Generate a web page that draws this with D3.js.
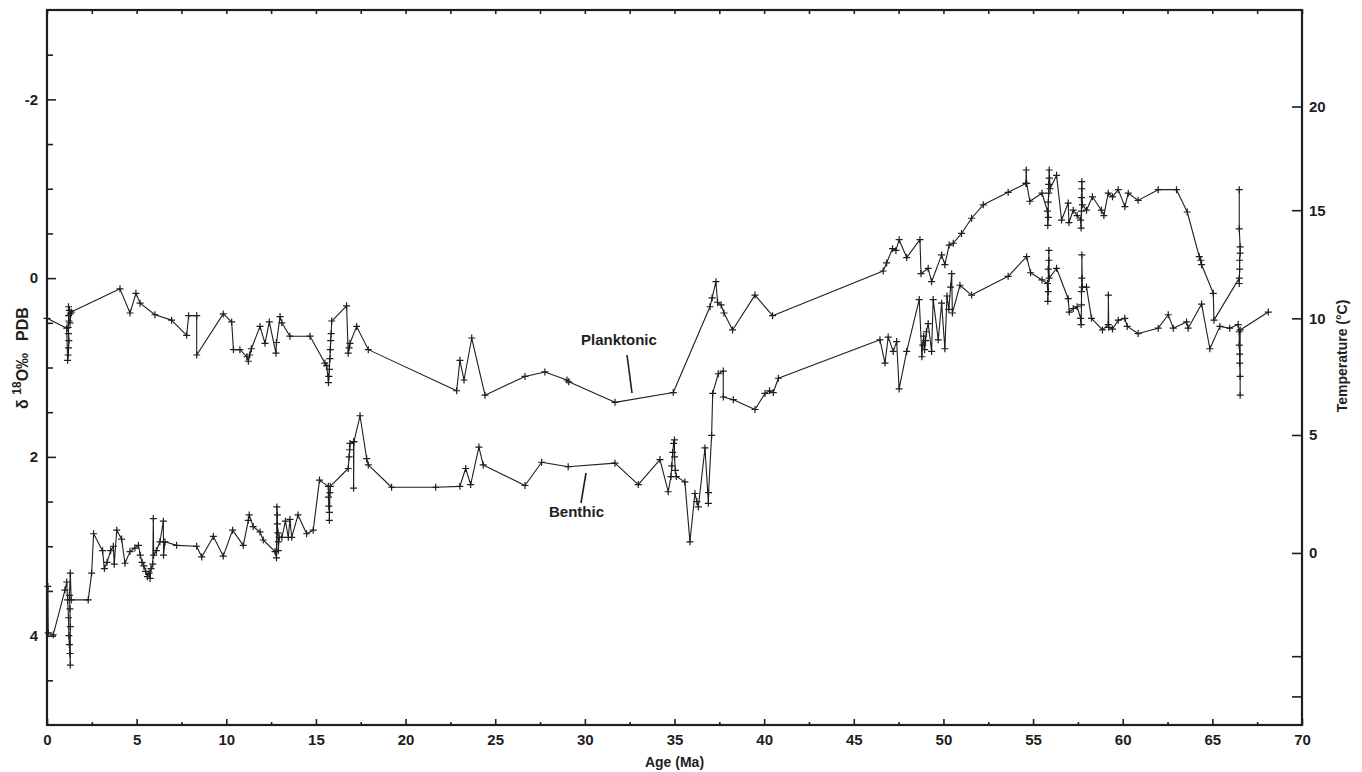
<!DOCTYPE html>
<html>
<head>
<meta charset="utf-8">
<script src="https://cdn.jsdelivr.net/npm/d3@7"></script>
<style>
    body { margin: 0; background: #fff; }
</style>
</head>
<body>
<div id="canvas"></div>
<script>
"use strict"

/* Planktonic series: age (Ma) and delta 18O (per mil PDB) */
let planktonicAge = [0, 1.1, 1.15, 1.18, 1.2, 1.22, 1.2, 1.18, 1.22, 1.2, 1.25, 1.2, 1.3, 1.28, 1.35,
    4.07, 4.63, 4.96, 5.19, 6.02, 6.95, 7.79, 7.9, 8.35, 8.35, 9.83, 10.3, 10.4, 10.76, 11.15, 11.23, 11.3, 11.4,
    11.88, 12.16, 12.4, 12.77, 12.8, 13.0, 13.1, 13.55, 14.67, 15.5,
    15.6, 15.7, 15.72, 15.75, 15.78, 15.8, 15.82, 15.85, 15.88,
    16.71, 16.8, 16.85, 16.9, 17.27, 17.92, 22.85, 23.03, 23.26, 23.69, 24.43, 26.66, 27.77, 29.0, 29.1,
    31.68, 34.93, 36.98, 37.1, 37.31, 37.4, 37.6, 37.76, 38.24, 39.49, 40.47,
    46.64, 46.83, 47.16, 47.35, 47.53, 47.95, 48.69, 48.75, 49.15, 49.34, 49.9, 50.08, 50.32, 50.55,
    51.01, 51.57, 52.22, 53.61, 54.6, 54.62, 54.64, 54.82, 55.5,
    55.8, 55.82, 55.85, 55.85, 55.87, 55.87, 55.9, 55.9, 55.95,
    56.31, 56.59, 56.96, 57.0, 57.24, 57.46,
    57.65, 57.68, 57.7, 57.7, 57.72, 57.72, 57.75,
    57.98, 58.31, 58.81, 58.95, 59.19, 59.43, 59.75, 60.12, 60.31, 60.86, 61.98, 63.0, 63.6,
    64.27, 64.35, 64.4, 65.05, 65.09, 66.5,
    66.5, 66.52, 66.52, 66.55, 66.55, 66.5, 66.5]
let planktonicD18O = [0.45, 0.56, 0.92, 0.86, 0.78, 0.70, 0.62, 0.55, 0.48, 0.42, 0.36, 0.32, 0.40, 0.50, 0.38,
    0.12, 0.39, 0.17, 0.28, 0.41, 0.47, 0.64, 0.42, 0.42, 0.86, 0.40, 0.49, 0.80, 0.80, 0.88, 0.93, 0.86, 0.79,
    0.54, 0.73, 0.49, 0.84, 0.72, 0.43, 0.50, 0.65, 0.65, 0.95,
    0.98, 1.17, 1.10, 1.02, 0.90, 0.80, 0.70, 0.62, 0.48,
    0.31, 0.84, 0.78, 0.73, 0.54, 0.80, 1.26, 0.92, 1.14, 0.67, 1.31, 1.10, 1.05, 1.14, 1.16,
    1.39, 1.28, 0.32, 0.22, 0.04, 0.27, 0.30, 0.39, 0.58, 0.19, 0.42,
    -0.08, -0.17, -0.33, -0.31, -0.43, -0.23, -0.43, -0.05, -0.11, 0.04, -0.26, -0.15, -0.37, -0.39,
    -0.50, -0.67, -0.82, -0.96, -1.06, -1.21, -1.06, -0.86, -0.95,
    -0.75, -0.59, -0.68, -0.85, -0.95, -1.05, -1.12, -1.21, -1.00,
    -1.15, -0.65, -0.84, -0.62, -0.76, -0.70,
    -0.65, -0.56, -0.75, -0.90, -1.00, -1.08, -0.82,
    -0.76, -0.91, -0.76, -0.70, -0.95, -0.91, -0.99, -0.80, -0.95, -0.87, -0.99, -0.99, -0.74,
    -0.24, -0.20, -0.15, 0.17, 0.47, 0.00,
    0.06, -0.10, -0.20, -0.28, -0.35, -0.55, -0.99]

/* Benthic series */
let benthicAge = [0.05, 0.07, 0.35, 1.0,
    1.1, 1.15, 1.2, 1.22, 1.25, 1.28, 1.3, 1.3, 1.28, 1.25, 1.3, 1.35,
    2.3, 2.49, 2.6, 3.1, 3.2, 3.35, 3.55, 3.7, 3.75, 3.89, 4.16, 4.35, 4.63, 4.9, 5.1,
    5.2, 5.3, 5.4, 5.5, 5.6, 5.7, 5.75, 5.8, 5.9, 5.93, 5.95, 6.1, 6.3, 6.49, 6.5, 6.58,
    7.23, 8.35, 8.63, 9.28, 9.83, 10.35, 10.95, 11.23, 11.28, 11.5, 11.88, 12.06, 12.72,
    12.8, 12.82, 12.85, 12.85, 12.88, 12.9, 12.9, 12.95, 13.1, 13.3, 13.46, 13.55, 13.65,
    14.0, 14.48, 14.85, 15.2, 15.69, 15.7, 15.72, 15.75, 15.75, 15.78, 15.8,
    16.8, 16.85, 16.88, 16.9, 17.1, 17.1, 17.12, 17.46, 17.83, 17.92, 19.22, 21.68,
    23.03, 23.35, 23.63, 24.09, 24.33, 26.66, 27.59, 29.07, 31.68, 32.98, 34.19, 34.65,
    34.8, 34.85, 34.9, 34.95, 35.0, 35.0, 35.05, 35.1,
    35.58, 35.86, 36.14, 36.25, 36.33, 36.7, 36.89, 36.9, 37.07, 37.13, 37.44, 37.72, 37.72,
    38.28, 39.49, 40.05, 40.3, 40.51, 40.79,
    46.46, 46.74, 46.92, 47.2, 47.39, 47.53, 47.95, 48.65,
    48.8, 48.85, 48.9, 48.95, 49.0, 49.05, 49.15, 49.34, 49.43, 49.71, 49.9, 50.08,
    50.2, 50.3, 50.4, 50.46, 50.5, 50.92, 51.57, 53.61, 54.64, 54.86, 55.5,
    55.8, 55.82, 55.85, 55.85, 55.88, 55.88, 55.9,
    56.31, 56.96, 57.02, 57.24, 57.46,
    57.65, 57.68, 57.7, 57.7, 57.72, 57.72, 57.75,
    57.98, 58.26, 58.87, 59.19, 59.2, 59.22, 59.43, 59.75, 60.12, 60.25, 60.86, 61.98,
    62.54, 62.82, 63.56, 63.65, 64.4, 64.86, 65.42, 65.97, 66.44,
    66.5, 66.5, 66.52, 66.52, 66.55, 66.55, 66.55, 68.12]
let benthicD18O = [3.45, 3.97, 3.99, 3.49,
    3.40, 3.60, 3.80, 4.00, 4.10, 4.20, 4.33, 3.90, 3.70, 3.55, 3.30, 3.60,
    3.60, 3.30, 2.86, 3.05, 3.25, 3.18, 3.05, 3.00, 3.20, 2.82, 2.92, 3.19, 3.06, 3.02, 2.99,
    3.10, 3.18, 3.22, 3.28, 3.34, 3.30, 3.36, 3.25, 3.20, 2.69, 3.10, 3.05, 2.95, 2.72, 3.10, 2.95,
    2.99, 3.00, 3.12, 2.89, 3.11, 2.82, 2.99, 2.71, 2.65, 2.78, 2.84, 2.93, 3.06,
    3.13, 2.56, 2.65, 2.75, 2.85, 2.95, 3.05, 2.90, 2.90, 2.72, 2.90, 2.70, 2.90,
    2.65, 2.86, 2.82, 2.26, 2.33, 2.45, 2.55, 2.62, 2.71, 2.40, 2.33,
    2.13, 2.00, 1.92, 1.85, 1.83, 2.35, 1.83, 1.54, 2.02, 2.09, 2.34, 2.34,
    2.33, 2.13, 2.31, 1.89, 2.09, 2.32, 2.06, 2.11, 2.07, 2.31, 2.03, 2.39,
    2.22, 2.10, 1.95, 1.85, 1.81, 2.00, 2.15, 2.22,
    2.28, 2.95, 2.41, 2.50, 2.56, 1.90, 2.52, 2.40, 1.76, 1.29, 1.07, 1.04, 1.33,
    1.36, 1.47, 1.29, 1.26, 1.28, 1.12,
    0.69, 0.95, 0.66, 0.82, 0.71, 1.24, 0.82, 0.24,
    0.88, 0.75, 0.65, 0.80, 0.70, 0.60, 0.51, 0.82, 0.24, 0.69, 0.28, 0.79,
    0.20, 0.35, 0.10, -0.05, 0.39, 0.08, 0.19, -0.02, -0.24, -0.06, 0.02,
    0.06, 0.26, 0.15, -0.10, -0.20, -0.31, 0.00,
    -0.11, 0.23, 0.38, 0.34, 0.32,
    0.45, 0.52, 0.30, 0.15, 0.00, -0.26, 0.10,
    0.10, 0.45, 0.58, 0.52, 0.19, 0.55, 0.57, 0.47, 0.45, 0.54, 0.62, 0.56,
    0.41, 0.56, 0.49, 0.56, 0.29, 0.79, 0.54, 0.56, 0.52,
    0.60, 0.75, 0.85, 0.95, 1.10, 1.31, 0.58, 0.38]

/* Axis ticks */
let ageMajorTicks = [0, 5, 10, 15, 20, 25, 30, 35, 40, 45, 50, 55, 60, 65, 70]
let ageMinorTicks = [2.5, 7.5, 12.5, 17.5, 22.5, 27.5, 32.5, 37.5, 42.5, 47.5, 52.5, 57.5, 62.5, 67.5]
let d18OMajorTicks = [-2, 0, 2, 4]
let d18OMinorTicks = [-2.5, -1.5, -1, -0.5, 0.5, 1, 1.5, 2.5, 3, 3.5, 4.5]
/* temperature scale: label and the delta 18O value it sits on */
let tempTickLabels = ["20", "15", "10", "5", "0", "", ""]
let tempTickD18O = [-1.92, -0.76, 0.45, 1.755, 3.075, 4.23, 4.68]

let svgWidth = 1362
let svgHeight = 772
let margin = {
    top: 10,
    right: 60,
    bottom: 47,
    left: 47
}
let plotWidth = svgWidth - margin.left - margin.right
let plotHeight = svgHeight - margin.top - margin.bottom
let ink = "#1e1e1e"
let font = "Arial, 'Liberation Sans', Helvetica, sans-serif"

let svg = d3.select("#canvas")
    .append("svg")
    .attr("width", svgWidth)
    .attr("height", svgHeight)
    .style("background", "#fff")

let viz = svg.append("g")
    .attr("transform", `translate(${margin.left},${margin.top})`)

/* scales */
let xScale = d3.scaleLinear()
    .domain([0, 70])
    .range([0, plotWidth])
let yScale = d3.scaleLinear()
    .domain([-3, 5]) /* inverted: lighter values on top */
    .range([0, plotHeight])

function styleAxis(g) {
    g.select(".domain").remove()
    g.selectAll("line").attr("stroke", ink).attr("stroke-width", 1.6)
    g.selectAll("text")
        .style("font-family", font)
        .style("font-size", "15px")
        .style("font-weight", "bold")
        .attr("fill", ink)
}

/* bottom axis */
viz.append("g")
    .attr("transform", `translate(0,${plotHeight})`)
    .call(d3.axisBottom(xScale).tickValues(ageMinorTicks).tickSize(-3).tickFormat(""))
    .call(styleAxis)
viz.append("g")
    .attr("transform", `translate(0,${plotHeight})`)
    .call(d3.axisBottom(xScale).tickValues(ageMajorTicks).tickSize(-6).tickPadding(9).tickFormat(d => d))
    .call(styleAxis)

/* top axis, ticks only */
viz.append("g")
    .call(d3.axisTop(xScale).tickValues(ageMajorTicks.concat(ageMinorTicks)).tickSize(-4).tickFormat(""))
    .call(styleAxis)

/* left axis */
viz.append("g")
    .call(d3.axisLeft(yScale).tickValues(d18OMinorTicks).tickSize(-6).tickFormat(""))
    .call(styleAxis)
viz.append("g")
    .call(d3.axisLeft(yScale).tickValues(d18OMajorTicks).tickSize(-9).tickPadding(9).tickFormat(d => String(d)))
    .call(styleAxis)

/* right axis: temperature */
viz.append("g")
    .attr("transform", `translate(${plotWidth},0)`)
    .call(d3.axisRight(yScale).tickValues(tempTickD18O).tickSize(-10).tickPadding(7)
        .tickFormat((d, i) => tempTickLabels[i]))
    .call(styleAxis)

/* frame */
viz.append("rect")
    .attr("width", plotWidth)
    .attr("height", plotHeight)
    .attr("fill", "none")
    .attr("stroke", ink)
    .attr("stroke-width", 2.2)

/* series */
let line = d3.line()
    .x(d => xScale(d[0]))
    .y(d => yScale(d[1]))
let cross = "M-3.5,0H3.5M0,-3.5V3.5"

function drawSeries(ages, values, name) {
    let pts = ages.map((a, i) => [a, values[i]])
    viz.append("path")
        .datum(pts)
        .attr("d", line)
        .attr("fill", "none")
        .attr("stroke", ink)
        .attr("stroke-width", 1.1)
        .attr("stroke-linejoin", "round")
    viz.selectAll("path.mark-" + name)
        .data(pts)
        .join("path")
        .attr("class", "mark-" + name)
        .attr("transform", d => `translate(${xScale(d[0])},${yScale(d[1])})`)
        .attr("d", cross)
        .attr("stroke", ink)
        .attr("stroke-width", 1.2)
}
drawSeries(planktonicAge, planktonicD18O, "planktonic")
drawSeries(benthicAge, benthicD18O, "benthic")

/* series labels with leader lines (page coordinates) */
svg.append("text")
    .attr("x", 581)
    .attr("y", 345)
    .style("font-family", font)
    .style("font-size", "15px")
    .style("font-weight", "bold")
    .attr("fill", ink)
    .text("Planktonic")
svg.append("line")
    .attr("x1", 627).attr("y1", 355)
    .attr("x2", 632).attr("y2", 393)
    .attr("stroke", ink)
    .attr("stroke-width", 1.6)

svg.append("text")
    .attr("x", 549)
    .attr("y", 517)
    .style("font-family", font)
    .style("font-size", "15px")
    .style("font-weight", "bold")
    .attr("fill", ink)
    .text("Benthic")
svg.append("line")
    .attr("x1", 586).attr("y1", 473)
    .attr("x2", 581).attr("y2", 503)
    .attr("stroke", ink)
    .attr("stroke-width", 1.6)

/* axis titles */
svg.append("text")
    .attr("x", margin.left + xScale(35))
    .attr("y", 767)
    .attr("text-anchor", "middle")
    .style("font-family", font)
    .style("font-size", "14px")
    .style("font-weight", "bold")
    .attr("fill", ink)
    .text("Age (Ma)")

let yTitle = svg.append("text")
    .attr("transform", "translate(28,358) rotate(-90)")
    .attr("text-anchor", "middle")
    .style("font-family", font)
    .style("font-size", "16px")
    .style("font-weight", "bold")
    .attr("fill", ink)
yTitle.append("tspan").text("\u03b4 ")
yTitle.append("tspan").attr("dy", -7).style("font-size", "12px").text("18")
yTitle.append("tspan").attr("dy", 7).text("O\u2030")
yTitle.append("tspan").attr("dx", 12).text("PDB")

svg.append("text")
    .attr("transform", "translate(1347,356) rotate(-90)")
    .attr("text-anchor", "middle")
    .style("font-family", font)
    .style("font-size", "14px")
    .style("font-weight", "bold")
    .attr("fill", ink)
    .text("Temperature (\u00b0C)")
</script>
</body>
</html>
